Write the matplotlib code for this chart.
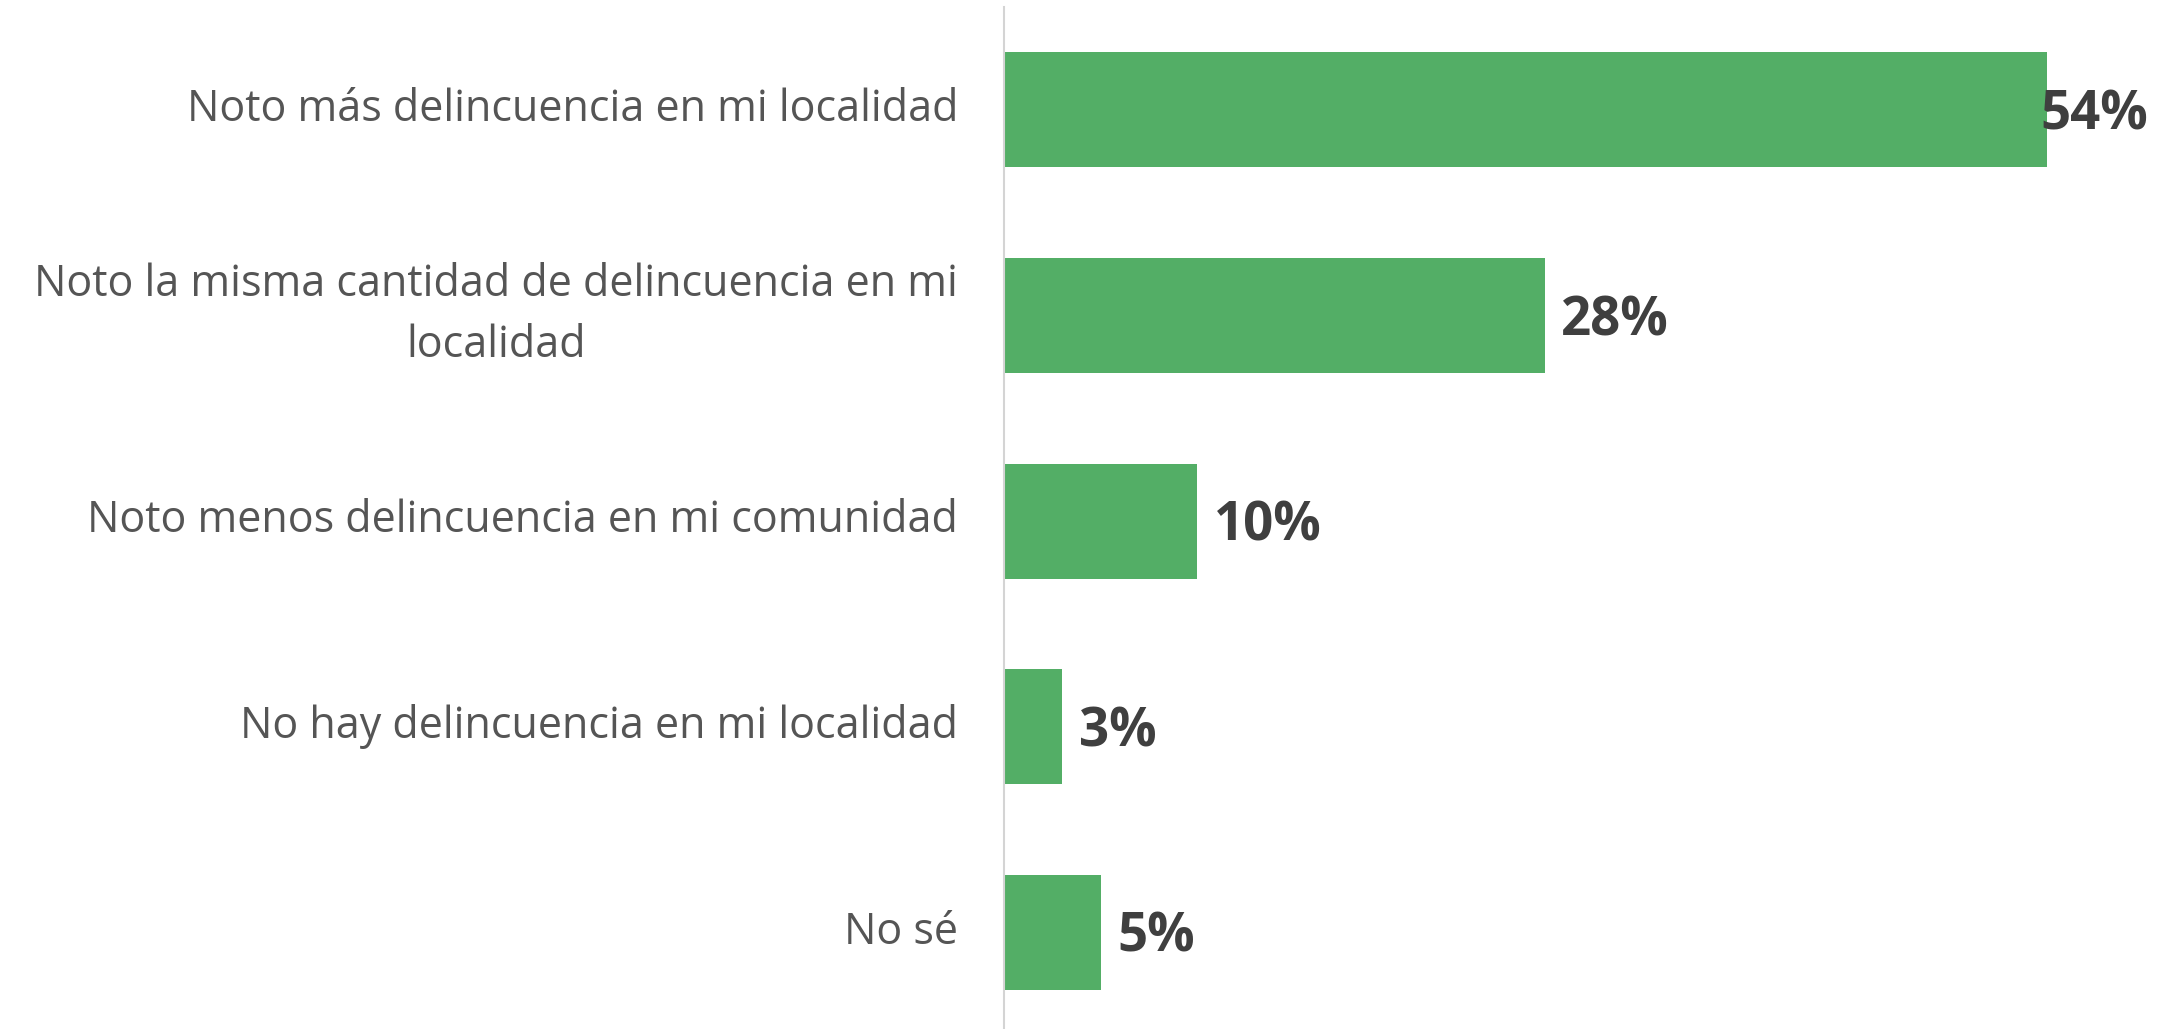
import matplotlib.pyplot as plt

categories = [
    "Noto más delincuencia en mi localidad",
    "Noto la misma cantidad de delincuencia en mi\nlocalidad",
    "Noto menos delincuencia en mi comunidad",
    "No hay delincuencia en mi localidad",
    "No sé",
]
values = [54, 28, 10, 3, 5]
value_labels = ["54%", "28%", "10%", "3%", "5%"]

plt.rcParams['font.family'] = ['Open Sans', 'DejaVu Sans']

fig = plt.figure(figsize=(21.84, 10.29), dpi=100)
ax = fig.add_axes([0.4597, 0.0, 0.5403, 0.9932])

ypos = list(range(len(categories)))
ax.barh(ypos, values, height=0.56, color="#53ae66")

ax.set_xlim(0, 61.1)
ax.set_ylim(4.47, -0.5)

ax.set_yticks(ypos)
ax.set_yticklabels(categories, fontsize=31, color="#555555", va="center",
                   multialignment="center", linespacing=1.5)
ax.tick_params(axis="y", length=0, pad=33)
ax.set_xticks([])

for s in ["top", "right", "bottom"]:
    ax.spines[s].set_visible(False)
ax.spines["left"].set_color("#d4d4d4")
ax.spines["left"].set_linewidth(1.5)

for i, (v, t) in enumerate(zip(values, value_labels)):
    off = 12 if i > 0 else -5
    ax.annotate(t, (v, i), xytext=(off, -4), textcoords="offset points",
                va="center", ha="left", fontsize=38, fontweight="bold",
                color="#3f3f3f")

fig.savefig("out.png", dpi=100)
